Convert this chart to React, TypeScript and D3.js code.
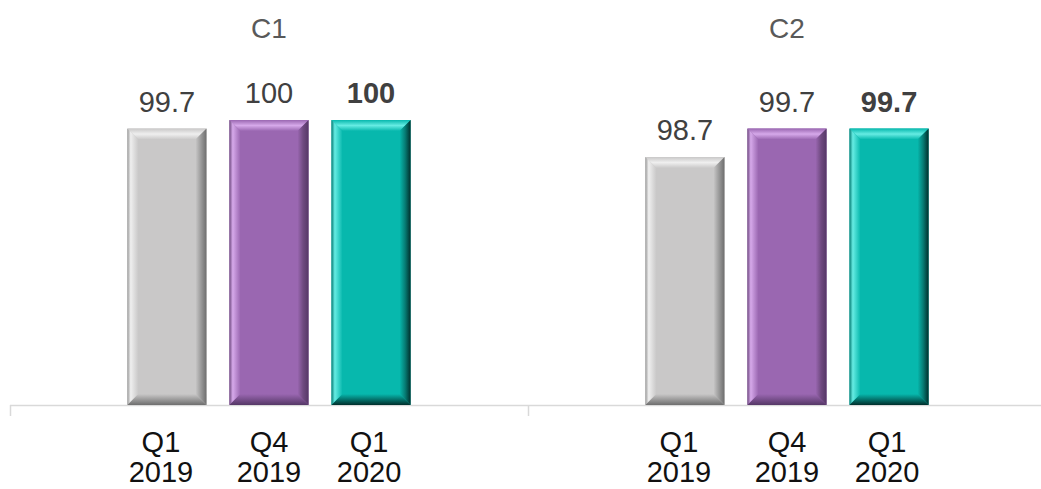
import React from "react";
import * as d3 from "d3";

const panels = ["C1", "C2"];
const quarters = ["Q1", "Q4", "Q1"];
const years = ["2019", "2019", "2020"];
const c1Values = [99.7, 100, 100];
const c2Values = [98.7, 99.7, 99.7];
const c1Labels = ["99.7", "100", "100"];
const c2Labels = ["98.7", "99.7", "99.7"];
const barColors = [
  { base: "#c9c8c8", light: "#efefef", dark: "#6e6e6e", deep: "#9a9a9a" },
  { base: "#9a67b1", light: "#d6a9ea", dark: "#553766", deep: "#6f4a80" },
  { base: "#07b8ad", light: "#66ece3", dark: "#002e2b", deep: "#067c74" },
];

const W = 1041;
const H = 489;

export default function App() {
  const outer = d3.scaleBand<string>().domain(panels).range([10, 1046]).padding(0);
  const keys = quarters.map((q, i) => `${q} ${years[i]}`);
  const inner = d3
    .scaleBand<string>()
    .domain(keys)
    .range([0, outer.bandwidth()])
    .paddingInner(0.225)
    .paddingOuter(1.15);
  const y = d3.scaleLinear().domain([90, 100]).range([405, 120]);
  const data = [
    { values: c1Values, labels: c1Labels },
    { values: c2Values, labels: c2Labels },
  ];
  const b = 11;
  const font = "'Liberation Sans', Arial, sans-serif";
  const labelShift = (i: number) => (i === 0 ? -6 : i === 2 ? -2 : 0);

  return (
    <svg width={W} height={H} style={{ position: "absolute", left: 0, top: 0, background: "#fff" }}>
      <defs>
        {barColors.map((c, i) => (
          <React.Fragment key={i}>
            <linearGradient id={`top${i}`} x1="0" y1="0" x2="0" y2="1">
              <stop offset="0" stopColor={c.base} />
              <stop offset="0.5" stopColor={c.light} />
              <stop offset="1" stopColor={c.base} />
            </linearGradient>
            <linearGradient id={`right${i}`} x1="0" y1="0" x2="1" y2="0">
              <stop offset="0" stopColor={c.base} />
              <stop offset="0.5" stopColor={c.deep} />
              <stop offset="1" stopColor={c.dark} />
            </linearGradient>
            <linearGradient id={`left${i}`} x1="0" y1="0" x2="1" y2="0">
              <stop offset="0" stopColor={c.deep} />
              <stop offset="0.3" stopColor={c.light} />
              <stop offset="1" stopColor={c.base} />
            </linearGradient>
            <linearGradient id={`bottom${i}`} x1="0" y1="0" x2="0" y2="1">
              <stop offset="0" stopColor={c.base} />
              <stop offset="1" stopColor={c.dark} />
            </linearGradient>
          </React.Fragment>
        ))}
      </defs>
      <line x1={10} x2={W} y1={405.5} y2={405.5} stroke="#d9d9d9" strokeWidth={1.5} />
      {[10, 528, 1046].map((x, i) => (
        <line key={i} x1={x + 0.5} x2={x + 0.5} y1={405} y2={416} stroke="#d9d9d9" strokeWidth={1.5} />
      ))}
      {panels.map((p, pi) => {
        const ox = outer(p)!;
        return (
          <g key={p}>
            <text
              x={ox + outer.bandwidth() / 2}
              y={38}
              textAnchor="middle"
              fontFamily={font}
              fontSize={28}
              fill="#595959"
            >
              {p}
            </text>
            {keys.map((k, i) => {
              const x0 = ox + inner(k)!;
              const w = inner.bandwidth();
              const x1 = x0 + w;
              const y0 = y(data[pi].values[i]);
              const y1 = y(90);
              const c = barColors[i];
              return (
                <g key={k}>
                  <rect x={x0} y={y0} width={w} height={y1 - y0} fill={c.base} />
                  <polygon
                    points={`${x0},${y0} ${x1},${y0} ${x1 - b},${y0 + b} ${x0 + b},${y0 + b}`}
                    fill={`url(#top${i})`}
                  />
                  <polygon
                    points={`${x0},${y0} ${x0 + b},${y0 + b} ${x0 + b},${y1 - b} ${x0},${y1}`}
                    fill={`url(#left${i})`}
                  />
                  <polygon
                    points={`${x1},${y0} ${x1 - b},${y0 + b} ${x1 - b},${y1 - b} ${x1},${y1}`}
                    fill={`url(#right${i})`}
                  />
                  <polygon
                    points={`${x0},${y1} ${x0 + b},${y1 - b} ${x1 - b},${y1 - b} ${x1},${y1}`}
                    fill={`url(#bottom${i})`}
                  />
                  <text
                    x={x0 + w / 2}
                    y={y0 - 17}
                    textAnchor="middle"
                    fontFamily={font}
                    fontSize={29}
                    fontWeight={i === 2 ? "bold" : "normal"}
                    fill="#404040"
                  >
                    {data[pi].labels[i]}
                  </text>
                  <text
                    x={x0 + w / 2 + labelShift(i)}
                    y={452}
                    textAnchor="middle"
                    fontFamily={font}
                    fontSize={29}
                    fill="#111"
                  >
                    {quarters[i]}
                  </text>
                  <text
                    x={x0 + w / 2 + labelShift(i)}
                    y={482}
                    textAnchor="middle"
                    fontFamily={font}
                    fontSize={29}
                    fill="#111"
                  >
                    {years[i]}
                  </text>
                </g>
              );
            })}
          </g>
        );
      })}
    </svg>
  );
}
